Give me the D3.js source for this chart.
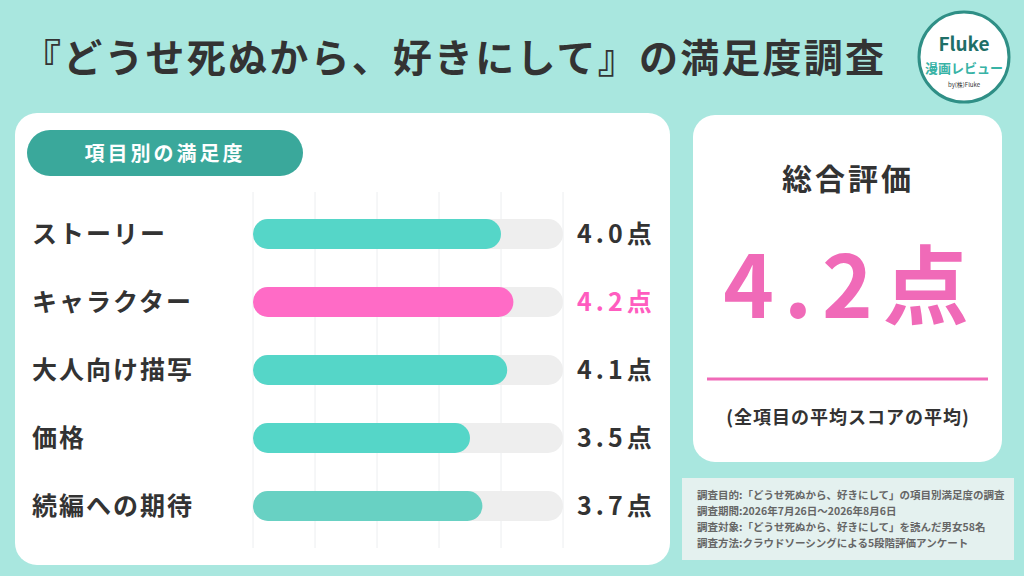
<!DOCTYPE html><html><head><meta charset="utf-8"><script src="https://cdn.jsdelivr.net/npm/d3@7"></script>
<style>body{margin:0}svg{display:block;font-family:"Noto Sans CJK JP",sans-serif}</style></head><body><svg id="c" width="1024" height="576"></svg>
<script>
const categories=["ストーリー","キャラクター","大人向け描写","価格","続編への期待"];
const values=[4.0,4.2,4.1,3.5,3.7];
const valueLabels=["4.0点","4.2点","4.1点","3.5点","3.7点"];
const gridTicks=[0,1,2,3,4,5];
const notes=["調査目的:「どうせ死ぬから、好きにして」の項目別満足度の調査","調査期間:2026年7月26日〜2026年8月6日","調査対象:「どうせ死ぬから、好きにして」を読んだ男女58名","調査方法:クラウドソーシングによる5段階評価アンケート"];
const total="4.2点";
const svg=d3.select("#c");
svg.append("rect").attr("width",1024).attr("height",576).attr("fill","#a9e7df");
svg.append("text").attr("x",22).attr("y",72).attr("font-size",39).attr("font-weight",700).attr("fill","#333").attr("textLength",862).text("『どうせ死ぬから、好きにして』の満足度調査");
const lg=svg.append("g").attr("transform","translate(964,57)");
lg.append("circle").attr("r",45).attr("fill","#fff").attr("stroke","#2f8f86").attr("stroke-width",3);
lg.append("text").attr("y",-6).attr("text-anchor","middle").attr("font-size",19).attr("font-weight",700).attr("fill","#1f6f68").text("Fluke");
lg.append("text").attr("y",16).attr("text-anchor","middle").attr("font-size",13).attr("font-weight",700).attr("fill","#38b3a6").text("漫画レビュー");
lg.append("text").attr("y",30).attr("text-anchor","middle").attr("font-size",6).attr("fill","#333").text("by(株)Fluke");
svg.append("rect").attr("x",15).attr("y",113).attr("width",655).attr("height",452).attr("rx",22).attr("fill","#fff");
svg.append("rect").attr("x",27).attr("y",130).attr("width",276).attr("height",46).attr("rx",23).attr("fill","#3aa89b");
svg.append("text").attr("x",165).attr("y",161).attr("text-anchor","middle").attr("font-size",20).attr("font-weight",700).attr("fill","#fff").attr("letter-spacing",3).text("項目別の満足度");
const x=d3.scaleLinear().domain([0,5]).range([253,563]);
const y=d3.scaleBand().domain(categories).range([200,540]).paddingInner(0.56).paddingOuter(0.28);
svg.append("g").selectAll("line").data(gridTicks).join("line").attr("x1",d=>x(d)).attr("x2",d=>x(d)).attr("y1",192).attr("y2",548).attr("stroke","#eceef0").attr("stroke-width",1);
const h=y.bandwidth();
svg.append("g").selectAll("rect").data(categories).join("rect").attr("x",x(0)).attr("y",d=>y(d)).attr("width",x(5)-x(0)).attr("height",h).attr("rx",h/2).attr("fill","#eeeeee");
const cols=["#4fd5c6","#ff66c4","#4fd5c6","#4fd5c6","#63cfc1"];
svg.append("g").selectAll("rect").data(values).join("rect").attr("x",x(0)).attr("y",(d,i)=>y(categories[i])).attr("width",d=>x(d)-x(0)).attr("height",h).attr("rx",h/2).attr("fill",(d,i)=>cols[i]).attr("opacity",0.97);
svg.append("g").selectAll("text").data(categories).join("text").attr("x",32).attr("y",d=>y(d)+h/2+9).attr("font-size",25).attr("font-weight",700).attr("fill","#333").attr("letter-spacing",2).text(d=>d);
svg.append("g").selectAll("text").data(valueLabels).join("text").attr("x",577).attr("y",(d,i)=>y(categories[i])+h/2+9).attr("font-size",25).attr("font-weight",700).attr("fill",(d,i)=>i==1?"#ff5cbf":"#333").attr("letter-spacing",4).text(d=>d);
svg.append("rect").attr("x",693).attr("y",115).attr("width",309).attr("height",347).attr("rx",22).attr("fill","#fff");
svg.append("text").attr("x",848).attr("y",190).attr("text-anchor","middle").attr("font-size",30).attr("font-weight",700).attr("fill","#333").attr("letter-spacing",3).text("総合評価");
svg.append("text").attr("x",851).attr("y",318).attr("text-anchor","middle").attr("font-size",86).attr("font-weight",700).attr("fill","#f06ab8").attr("letter-spacing",10).text(total);
svg.append("line").attr("x1",707).attr("x2",988).attr("y1",379).attr("y2",379).attr("stroke","#f06ab8").attr("stroke-width",3);
svg.append("text").attr("x",848).attr("y",424).attr("text-anchor","middle").attr("font-size",18).attr("font-weight",700).attr("fill","#333").attr("letter-spacing",1).text("(全項目の平均スコアの平均)");
svg.append("rect").attr("x",682).attr("y",478).attr("width",332).attr("height",82).attr("fill","#e4f1ef");
svg.append("g").selectAll("text").data(notes).join("text").attr("x",697).attr("y",(d,i)=>499+i*16).attr("font-size",10.5).attr("font-weight",700).attr("fill","#666").text(d=>d);
</script></body></html>
